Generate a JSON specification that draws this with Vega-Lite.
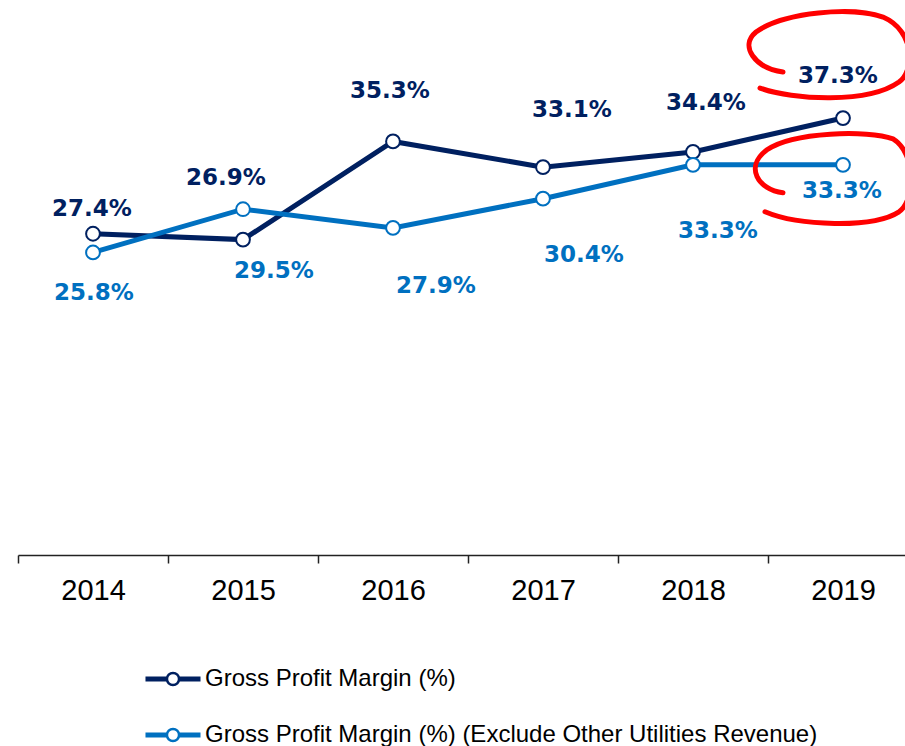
{
  "$schema": "https://vega.github.io/schema/vega-lite/v6.json",
  "width": 887,
  "height": 554,
  "autosize": {"type": "none"},
  "padding": {"left": 18, "top": 0, "right": 0, "bottom": 192},
  "background": "white",
  "data": {
    "values": [
      {"year": "2014", "series": "Gross Profit Margin (%)", "value": 0.274},
      {"year": "2015", "series": "Gross Profit Margin (%)", "value": 0.269},
      {"year": "2016", "series": "Gross Profit Margin (%)", "value": 0.353},
      {"year": "2017", "series": "Gross Profit Margin (%)", "value": 0.331},
      {"year": "2018", "series": "Gross Profit Margin (%)", "value": 0.344},
      {"year": "2019", "series": "Gross Profit Margin (%)", "value": 0.373},
      {"year": "2014", "series": "Gross Profit Margin (%) (Exclude Other Utilities Revenue)", "value": 0.258},
      {"year": "2015", "series": "Gross Profit Margin (%) (Exclude Other Utilities Revenue)", "value": 0.295},
      {"year": "2016", "series": "Gross Profit Margin (%) (Exclude Other Utilities Revenue)", "value": 0.279},
      {"year": "2017", "series": "Gross Profit Margin (%) (Exclude Other Utilities Revenue)", "value": 0.304},
      {"year": "2018", "series": "Gross Profit Margin (%) (Exclude Other Utilities Revenue)", "value": 0.333},
      {"year": "2019", "series": "Gross Profit Margin (%) (Exclude Other Utilities Revenue)", "value": 0.333}
    ]
  },
  "encoding": {
    "x": {
      "field": "year",
      "type": "ordinal",
      "bandPosition": 0.5,
      "scale": {"type": "band", "range": [0, 900], "paddingInner": 0, "paddingOuter": 0},
      "axis": {
        "title": null,
        "labelAngle": 0,
        "labelFont": "Liberation Sans",
        "labelFontSize": 29,
        "labelColor": "black",
        "labelPadding": 13,
        "domainColor": "#222222",
        "domainWidth": 1.5,
        "tickColor": "#222222",
        "tickWidth": 1.5,
        "tickSize": 8,
        "tickBand": "extent",
        "offset": 1,
        "grid": false
      }
    },
    "y": {
      "field": "value",
      "type": "quantitative",
      "scale": {"domain": [0, 0.474], "nice": false, "zero": true},
      "axis": null
    }
  },
  "layer": [
    {
      "mark": {"type": "line", "strokeWidth": 5},
      "encoding": {
        "color": {
          "field": "series",
          "type": "nominal",
          "scale": {
            "domain": ["Gross Profit Margin (%)", "Gross Profit Margin (%) (Exclude Other Utilities Revenue)"],
            "range": ["#002060", "#0070C0"]
          },
          "legend": {
            "orient": "none",
            "legendX": 126,
            "legendY": 650,
            "title": null,
            "direction": "vertical",
            "symbolType": "M -0.955 -0.045 L -0.22 -0.045 L -0.22 0.045 L -0.955 0.045 Z M 0.22 -0.045 L 0.955 -0.045 L 0.955 0.045 L 0.22 0.045 Z M 0.22 0 C 0.22 0.1215 0.1215 0.22 0 0.22 C -0.1215 0.22 -0.22 0.1215 -0.22 0 C -0.22 -0.1215 -0.1215 -0.22 0 -0.22 C 0.1215 -0.22 0.22 -0.1215 0.22 0 Z",
            "symbolSize": 3025,
            "symbolStrokeWidth": 2.5,
            "symbolFillColor": "white",
            "symbolOpacity": 1,
            "labelFont": "Liberation Sans",
            "labelFontSize": 24,
            "labelColor": "black",
            "labelOffset": 3,
            "labelLimit": 1000,
            "rowPadding": 15,
            "padding": 0
          }
        }
      }
    },
    {
      "transform": [{"filter": "datum.year === '2019' && datum.series === 'Gross Profit Margin (%)'"}],
      "mark": {
        "type": "point",
        "shape": "M -83 -30 C -50 -18 25 -14 56 -36 C 72 -48 72 -87 40 -101 C 10 -112 -60 -106 -87 -86 C -104 -72 -88 -50 -60 -46",
        "size": 4,
        "filled": false,
        "stroke": "#FF0000",
        "strokeWidth": 5,
        "strokeCap": "round",
        "opacity": 1
      }
    },
    {
      "transform": [{"filter": "datum.year === '2019' && datum.series !== 'Gross Profit Margin (%)'"}],
      "mark": {
        "type": "point",
        "shape": "M -78 47 C -45 61 30 64 56 47 C 73 35 73 -12 50 -26 C 25 -35 -50 -33 -76 -15 C -99 2 -85 25 -60 28",
        "size": 4,
        "filled": false,
        "stroke": "#FF0000",
        "strokeWidth": 5,
        "strokeCap": "round",
        "opacity": 1
      }
    },
    {
      "mark": {"type": "point", "shape": "circle", "size": 190, "filled": false, "fill": "white", "strokeWidth": 2, "opacity": 1},
      "encoding": {
        "color": {"field": "series", "type": "nominal", "legend": null}
      }
    },
    {"transform": [{"filter": "datum.year === '2014' && datum.series === 'Gross Profit Margin (%)'"}], "mark": {"type": "text", "dx": -1, "dy": -25, "fill": "#002060"}, "encoding": {"text": {"field": "value", "type": "quantitative", "format": ".1%"}}},
    {"transform": [{"filter": "datum.year === '2015' && datum.series === 'Gross Profit Margin (%)'"}], "mark": {"type": "text", "dx": -17, "dy": -61.5, "fill": "#002060"}, "encoding": {"text": {"field": "value", "type": "quantitative", "format": ".1%"}}},
    {"transform": [{"filter": "datum.year === '2016' && datum.series === 'Gross Profit Margin (%)'"}], "mark": {"type": "text", "dx": -3, "dy": -50, "fill": "#002060"}, "encoding": {"text": {"field": "value", "type": "quantitative", "format": ".1%"}}},
    {"transform": [{"filter": "datum.year === '2017' && datum.series === 'Gross Profit Margin (%)'"}], "mark": {"type": "text", "dx": 29, "dy": -57, "fill": "#002060"}, "encoding": {"text": {"field": "value", "type": "quantitative", "format": ".1%"}}},
    {"transform": [{"filter": "datum.year === '2018' && datum.series === 'Gross Profit Margin (%)'"}], "mark": {"type": "text", "dx": 13, "dy": -49, "fill": "#002060"}, "encoding": {"text": {"field": "value", "type": "quantitative", "format": ".1%"}}},
    {"transform": [{"filter": "datum.year === '2019' && datum.series === 'Gross Profit Margin (%)'"}], "mark": {"type": "text", "dx": -5, "dy": -42, "fill": "#002060"}, "encoding": {"text": {"field": "value", "type": "quantitative", "format": ".1%"}}},
    {"transform": [{"filter": "datum.year === '2014' && datum.series !== 'Gross Profit Margin (%)'"}], "mark": {"type": "text", "dx": 1, "dy": 41, "fill": "#0070C0"}, "encoding": {"text": {"field": "value", "type": "quantitative", "format": ".1%"}}},
    {"transform": [{"filter": "datum.year === '2015' && datum.series !== 'Gross Profit Margin (%)'"}], "mark": {"type": "text", "dx": 31, "dy": 61.5, "fill": "#0070C0"}, "encoding": {"text": {"field": "value", "type": "quantitative", "format": ".1%"}}},
    {"transform": [{"filter": "datum.year === '2016' && datum.series !== 'Gross Profit Margin (%)'"}], "mark": {"type": "text", "dx": 43, "dy": 58, "fill": "#0070C0"}, "encoding": {"text": {"field": "value", "type": "quantitative", "format": ".1%"}}},
    {"transform": [{"filter": "datum.year === '2017' && datum.series !== 'Gross Profit Margin (%)'"}], "mark": {"type": "text", "dx": 41, "dy": 56, "fill": "#0070C0"}, "encoding": {"text": {"field": "value", "type": "quantitative", "format": ".1%"}}},
    {"transform": [{"filter": "datum.year === '2018' && datum.series !== 'Gross Profit Margin (%)'"}], "mark": {"type": "text", "dx": 25, "dy": 66, "fill": "#0070C0"}, "encoding": {"text": {"field": "value", "type": "quantitative", "format": ".1%"}}},
    {"transform": [{"filter": "datum.year === '2019' && datum.series !== 'Gross Profit Margin (%)'"}], "mark": {"type": "text", "dx": -1, "dy": 26, "fill": "#0070C0"}, "encoding": {"text": {"field": "value", "type": "quantitative", "format": ".1%"}}}
  ],
  "config": {
    "view": {"stroke": null},
    "text": {"font": "DejaVu Sans", "fontSize": 23, "fontWeight": "bold", "align": "center", "baseline": "middle"}
  }
}
